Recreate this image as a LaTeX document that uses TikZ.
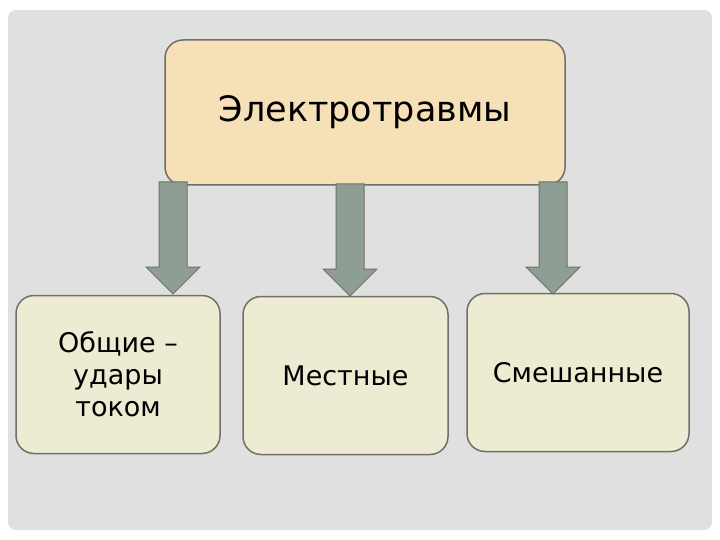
\documentclass[tikz,border=0pt]{standalone}
\usepackage{fontspec}
\setmainfont{DejaVu Sans}
\definecolor{slidegray}{RGB}{224,224,224}
\definecolor{peach}{RGB}{246,224,183}
\definecolor{cream}{RGB}{237,236,210}
\definecolor{edgegray}{RGB}{112,112,104}
\definecolor{arrowgray}{RGB}{142,158,148}

\begin{document}
\begin{tikzpicture}[x=1pt, y=-1pt,
    box/.style={draw=edgegray, line width=1.5pt, rounded corners=18pt,
                align=center, inner sep=0pt},
    topbox/.style={box, fill=peach, minimum width=400pt, minimum height=145pt,
                font=\fontsize{35}{42}\selectfont},
    kindbox/.style={box, fill=cream, minimum height=158pt,
                font=\fontsize{27}{32}\selectfont},
    blockarrow/.pic={
        \filldraw[draw=edgegray, line width=1pt, fill=arrowgray]
            (-14,0) -- (-14,85) -- (-27,85) -- (0,112) -- (27,85)
            -- (14,85) -- (14,0) -- cycle;
    }
]
\fill[white] (0,0) rectangle (720,540);
\fill[slidegray, rounded corners=8pt] (8,10) rectangle (712,530);

\node[topbox] (top) at (365,112.5) {Электротравмы};
\node[kindbox, minimum width=204pt] (common) at (118,374.5) {Общие –\\удары\\током};
\node[kindbox, minimum width=205pt] (local) at (345.5,375.5) {Местные};
\node[kindbox, minimum width=222pt] (mixed) at (578,372.5) {Смешанные};

% arrows from the top box down to each kind
\pic at (173,182) {blockarrow};
\pic at (350,184) {blockarrow};
\pic at (553,182) {blockarrow};
\end{tikzpicture}
\end{document}
